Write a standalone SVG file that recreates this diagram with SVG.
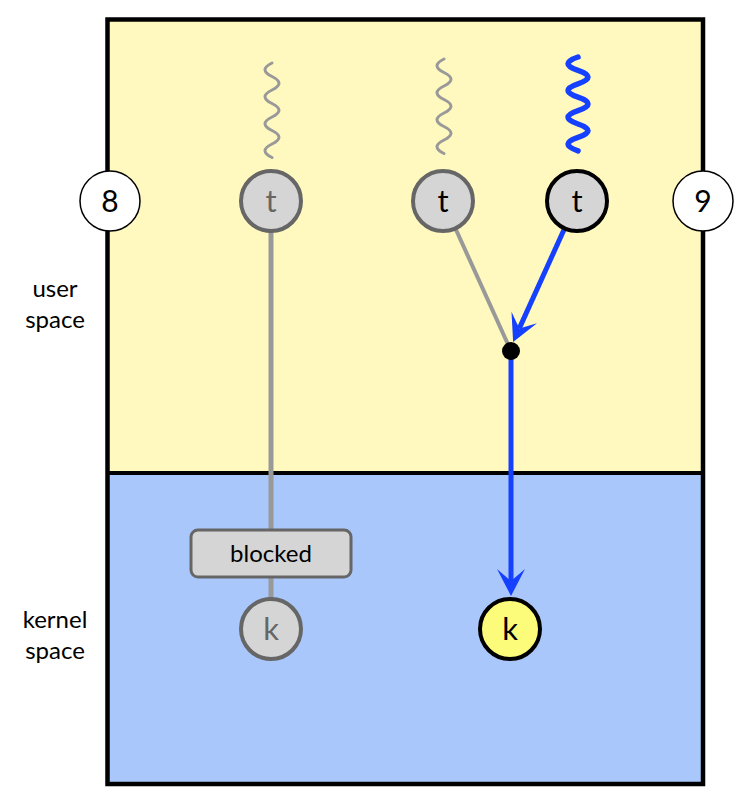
<svg xmlns="http://www.w3.org/2000/svg" width="740" height="808" viewBox="0 0 740 808">
<style>
  text { font-family: Lato, "Open Sans", "DejaVu Sans", sans-serif; text-anchor: middle; }
  .lbl { font-size: 24px; fill: #000; }
  .num { font-size: 30px; fill: #000; }
  .node-t { font-size: 31px; }
  .gcirc { fill: #d5d5d5; stroke: #666; stroke-width: 4; }
  .bcirc { fill: #d5d5d5; stroke: #000; stroke-width: 4; }
  .ycirc { fill: #fdfc7a; stroke: #000; stroke-width: 4; }
  .ncirc { fill: #fff; stroke: #000; stroke-width: 1.5; }
  .gline { stroke: #999; stroke-width: 5; fill: none; }
  .gline2 { stroke: #999; stroke-width: 4; fill: none; }
  .bline { stroke: #1540ff; stroke-width: 5; fill: none; }
  .gsq { stroke: #999; stroke-width: 3; fill: none; stroke-linecap: round; }
  .bsq { stroke: #1540ff; stroke-width: 5.5; fill: none; stroke-linecap: round; }
</style>
<defs>
  <marker id="arr" markerUnits="userSpaceOnUse" viewBox="-14 -15 31 30" refX="0" refY="0" markerWidth="31" markerHeight="30" orient="auto">
    <path d="M15,0 L-12,-14 L0,0 L-12,14 Z" fill="#1540ff"/>
  </marker>
</defs>

<g id="background">
  <rect x="107.5" y="19.5" width="595.5" height="453.5" fill="#fff9bf"/>
  <rect x="107.5" y="473" width="595.5" height="311" fill="#a9c7fb"/>
  <line x1="107.5" y1="473" x2="703" y2="473" stroke="#000" stroke-width="4"/>
  <rect x="107.5" y="19.5" width="595.5" height="764.5" fill="none" stroke="#000" stroke-width="4.5"/>
</g>

<g id="labels">
  <text class="lbl" x="55" y="297">user</text>
  <text class="lbl" x="55" y="328">space</text>
  <text class="lbl" x="55" y="628">kernel</text>
  <text class="lbl" x="55" y="659">space</text>
</g>

<g id="squiggles">
  <path class="gsq" d="M272,63 q-14,6.75 0,13.5 t0,13.5 t0,13.5 t0,13.5 t0,13.5 t0,13.5 t0,13.5"/>
  <path class="gsq" d="M444,59 q-14,6.75 0,13.5 t0,13.5 t0,13.5 t0,13.5 t0,13.5 t0,13.5 t0,13.5"/>
  <path class="bsq" d="M578,57 q-20,6.7 0,13.4 t0,13.4 t0,13.4 t0,13.4 t0,13.4 t0,13.4 t0,13.4"/>
</g>

<g id="connectors">
  <line class="gline" x1="271" y1="201" x2="271" y2="629"/>
  <line class="gline2" x1="443" y1="201" x2="511" y2="351"/>
  <line class="bline" x1="577" y1="201" x2="519.3" y2="328.4" marker-end="url(#arr)"/>
  <line class="bline" x1="511" y1="351" x2="511" y2="581" marker-end="url(#arr)"/>
</g>

<g id="node-8">
  <circle class="ncirc" cx="110" cy="201" r="30"/>
  <text class="num" x="110" y="212">8</text>
</g>
<g id="node-9">
  <circle class="ncirc" cx="703" cy="201" r="30"/>
  <text class="num" x="703" y="212">9</text>
</g>
<g id="node-t1">
  <circle class="gcirc" cx="271" cy="201" r="30"/>
  <text class="node-t" x="271" y="212" fill="#666">t</text>
</g>
<g id="node-t2">
  <circle class="gcirc" cx="443" cy="201" r="30"/>
  <text class="node-t" x="443" y="212" fill="#000">t</text>
</g>
<g id="node-t3">
  <circle class="bcirc" cx="577" cy="201" r="30"/>
  <text class="node-t" x="577" y="212" fill="#000">t</text>
</g>
<g id="node-join">
  <circle cx="511" cy="351" r="9" fill="#000"/>
</g>
<g id="node-blocked">
  <rect x="191" y="530" width="160" height="47" rx="7" fill="#d5d5d5" stroke="#666" stroke-width="3"/>
  <text class="lbl" x="271" y="562">blocked</text>
</g>
<g id="node-k1">
  <circle class="gcirc" cx="271" cy="629" r="30"/>
  <text class="node-t" x="271" y="640" fill="#666">k</text>
</g>
<g id="node-k2">
  <circle class="ycirc" cx="510" cy="629" r="30"/>
  <text class="node-t" x="510" y="640" fill="#000">k</text>
</g>
</svg>
